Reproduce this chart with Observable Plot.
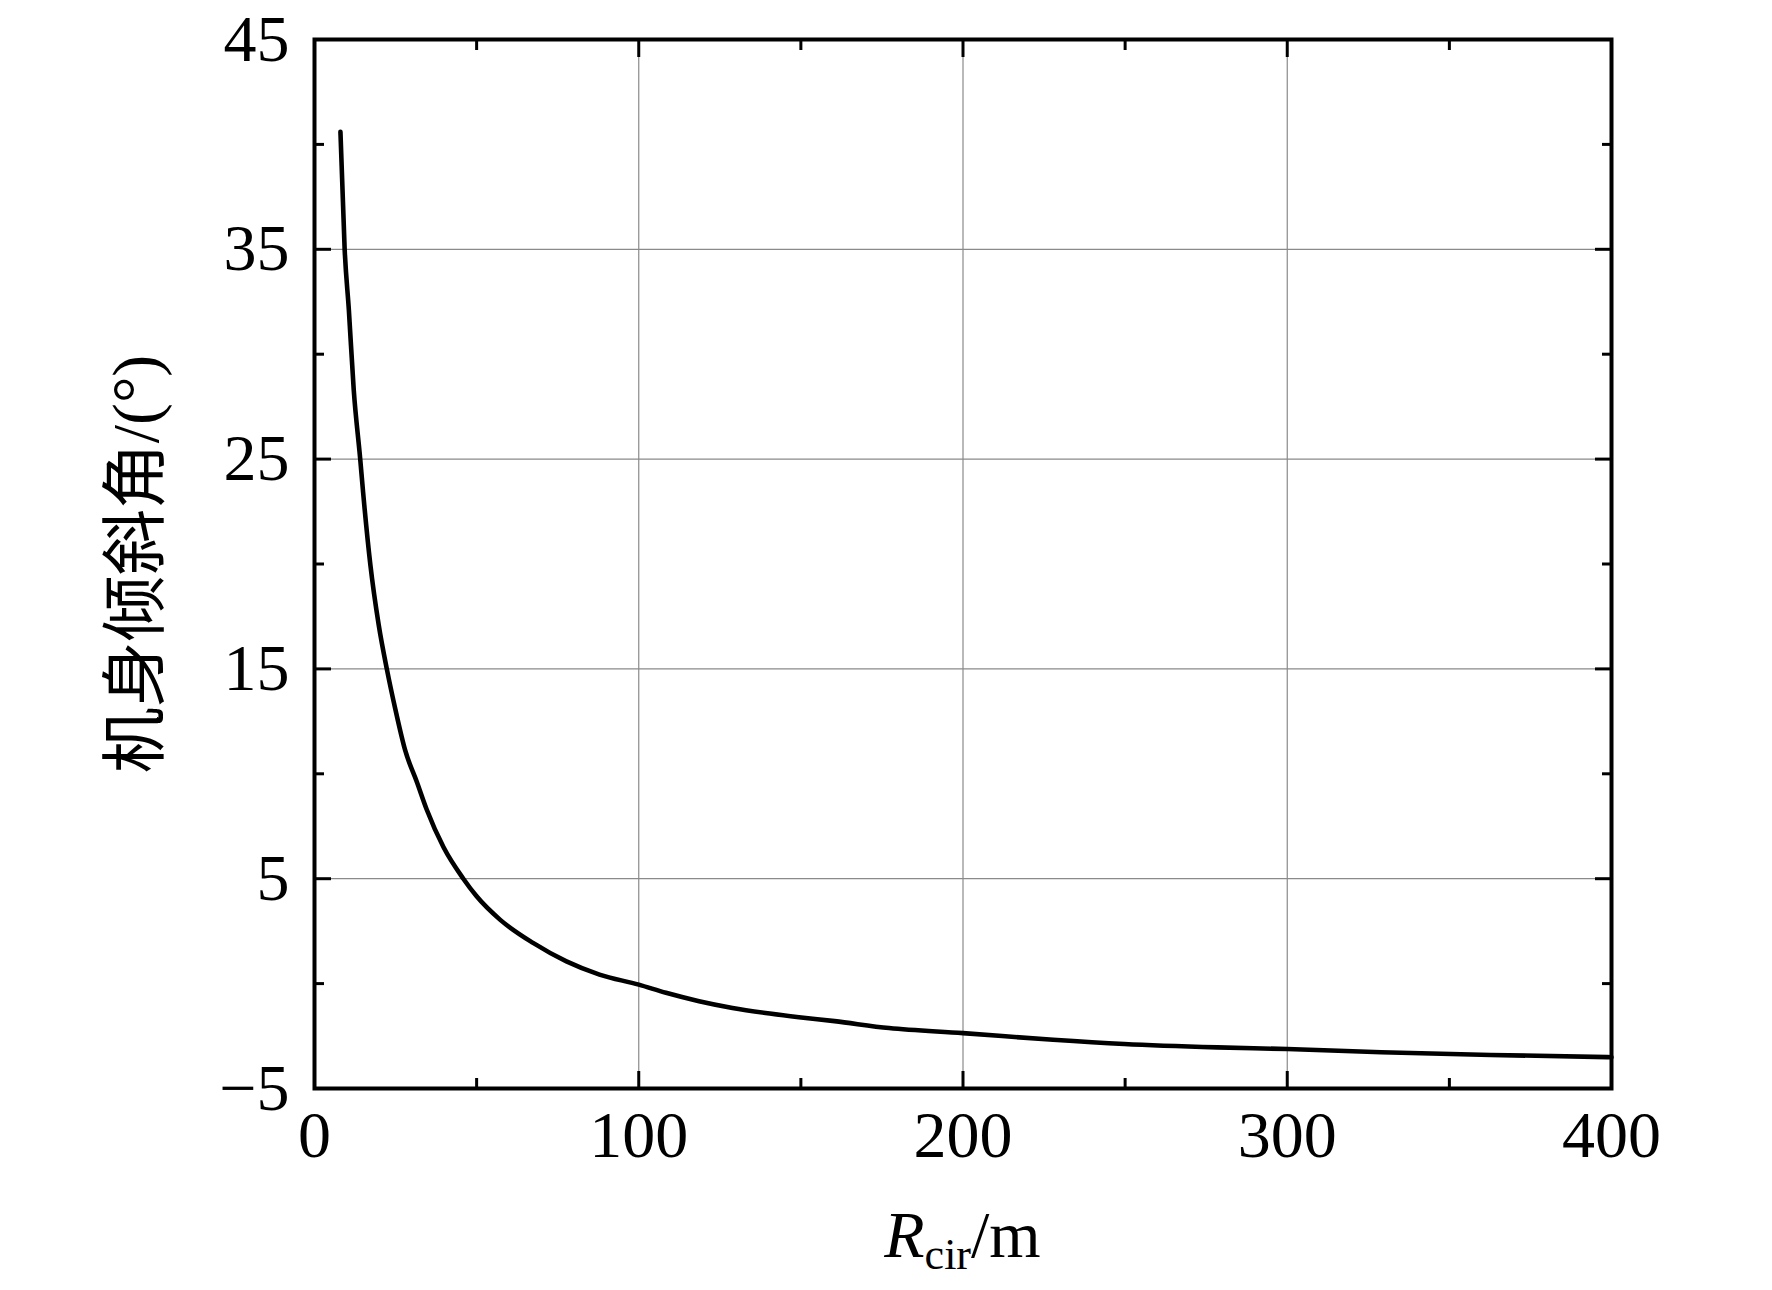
<!DOCTYPE html>
<html>
<head>
<meta charset="utf-8">
<script src="https://cdn.jsdelivr.net/npm/d3@7"></script>
<script src="https://cdn.jsdelivr.net/npm/@observablehq/plot@0.6"></script>
<style>
  html, body { margin: 0; padding: 0; background: #fff; }
  #chart svg { display: block; }
</style>
</head>
<body>
<div id="chart"></div>
<script>
// Turning radius (m)
const radius = [8, 9.3, 10.6, 12.1, 14.1, 15, 17.2, 19.8, 22.3, 24.9, 28, 31.6, 34.6, 39.8, 45.9, 50, 57.2, 67.4, 77.7, 87.9, 100, 108.4, 118.6, 128.9, 139.1, 149.4, 160.4, 177.2, 200, 227.8, 249.7, 278.4, 300, 329, 362.8, 400];
// Body tilt angle (deg)
const tilt = [40.6, 35, 32.1, 28.3, 25, 23.4, 20, 17.1, 15, 13.1, 11.1, 9.6, 8.3, 6.5, 5.0, 4.16, 3.05, 1.94, 1.06, 0.43, -0.05, -0.44, -0.84, -1.16, -1.4, -1.6, -1.79, -2.12, -2.36, -2.68, -2.88, -3.04, -3.12, -3.27, -3.40, -3.51];

const xTicks = [0, 100, 200, 300, 400];
const xMinor = [50, 150, 250, 350];
const xGrid = [100, 200, 300];
const yTicks = [-5, 5, 15, 25, 35, 45];
const yMinor = [0, 10, 20, 30, 40];
const yGrid = [5, 15, 25, 35];

const yLabel = "机身倾斜角/(°)";
const xLabelMain = "R";
const xLabelSub = "cir";
const xLabelUnit = "/m";

const data = radius.map((r, i) => ({r, t: tilt[i]}));
const fmt = d3.format("d");
const font = "'Liberation Serif', 'Times New Roman', 'Noto Sans CJK SC', serif";

const W = 1772, H = 1290;
const mL = 314, mR = 161, mT = 39, mB = 202;

const tickStyle = {strokeWidth: 3, fill: "none", label: null};

const chart = Plot.plot({
  width: W,
  height: H,
  marginLeft: mL,
  marginRight: mR,
  marginTop: mT,
  marginBottom: mB,
  style: {fontFamily: font, color: "#000", background: "#fff"},
  x: {domain: [0, 400]},
  y: {domain: [-5, 45]},
  marks: [
    Plot.gridX(xGrid, {stroke: "#8a8a8a", strokeOpacity: 1, strokeWidth: 1.2}),
    Plot.gridY(yGrid, {stroke: "#8a8a8a", strokeOpacity: 1, strokeWidth: 1.2}),
    // major/minor inward ticks on all four sides
    Plot.axisX(xTicks, {anchor: "bottom", tickSize: -17, ...tickStyle}),
    Plot.axisX(xMinor, {anchor: "bottom", tickSize: -10, ...tickStyle}),
    Plot.axisX(xTicks, {anchor: "top", tickSize: -17, ...tickStyle}),
    Plot.axisX(xMinor, {anchor: "top", tickSize: -10, ...tickStyle}),
    Plot.axisY(yTicks, {anchor: "left", tickSize: -17, ...tickStyle}),
    Plot.axisY(yMinor, {anchor: "left", tickSize: -10, ...tickStyle}),
    Plot.axisY(yTicks, {anchor: "right", tickSize: -17, ...tickStyle}),
    Plot.axisY(yMinor, {anchor: "right", tickSize: -10, ...tickStyle}),
    // tick labels
    Plot.axisX(xTicks, {anchor: "bottom", tickSize: 0, tickPadding: 22, fontSize: 66, tickFormat: fmt, label: null}),
    Plot.axisY(yTicks, {anchor: "left", tickSize: 0, tickPadding: 25, fontSize: 66, tickFormat: fmt,
      label: yLabel, labelAnchor: "center", labelOffset: 203, labelArrow: "none"}),
    Plot.line(data, {x: "r", y: "t", stroke: "#000", strokeWidth: 4.6, strokeLinejoin: "round", curve: "monotone-x"}),
    Plot.frame({stroke: "#000", strokeWidth: 4})
  ]
});

document.getElementById("chart").appendChild(chart);

// x-axis title with italic R and subscript
const svg = d3.select(chart);
const t = svg.append("text")
  .attr("x", mL + (W - mL - mR) / 2)
  .attr("y", 1257)
  .attr("text-anchor", "middle")
  .attr("font-family", font)
  .attr("font-size", 66)
  .attr("fill", "#000");
t.append("tspan").attr("font-style", "italic").text(xLabelMain);
t.append("tspan").attr("font-size", 44).attr("dy", 12).text(xLabelSub);
t.append("tspan").attr("dy", -12).text(xLabelUnit);
</script>
</body>
</html>
